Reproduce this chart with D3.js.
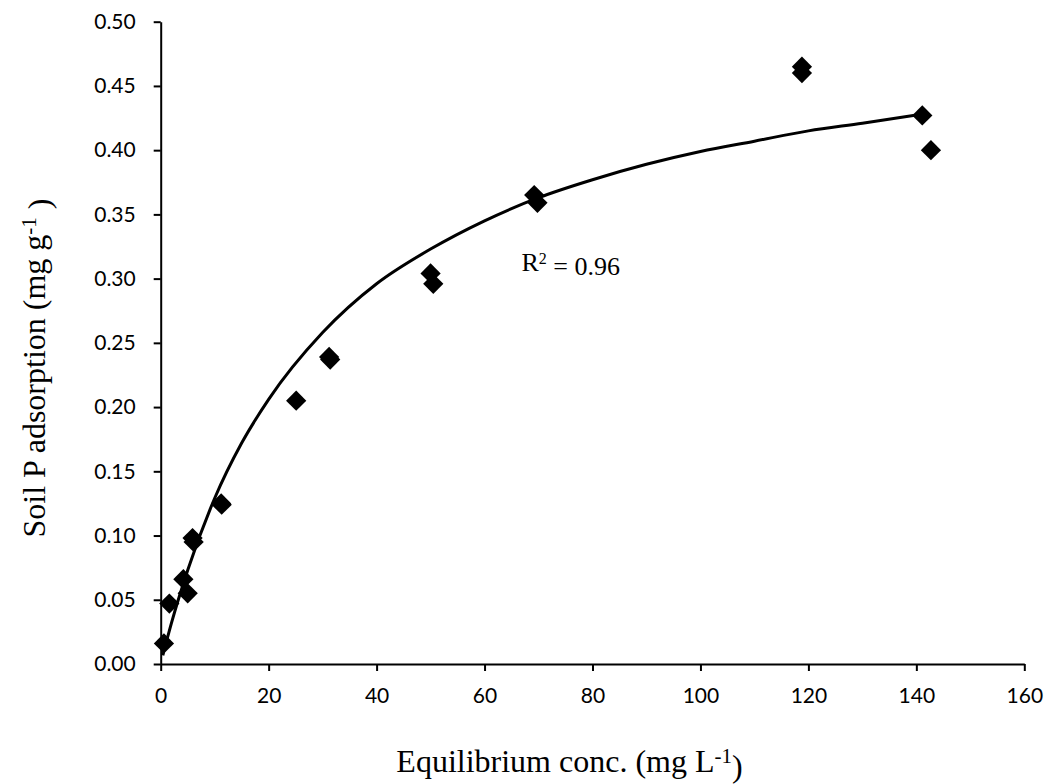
<!DOCTYPE html>
<html>
<head>
<meta charset="utf-8">
<script src="https://cdn.jsdelivr.net/npm/d3@7"></script>
<style>
  html, body { margin: 0; padding: 0; background: #fff; }
  svg { display: block; }
</style>
</head>
<body>
<svg id="chart" width="1054" height="784"></svg>
<script>
// Observed data points (Equilibrium conc. mg/L, Soil P adsorption mg/g)
const obsX = [0.6, 1.6, 4.2, 5.0, 5.9, 6.1, 11.2, 11.3, 25.1, 31.2, 31.4, 50.0, 50.5, 69.2, 69.8, 118.8, 118.8, 141.1, 142.7];
const obsY = [0.016, 0.047, 0.066, 0.055, 0.098, 0.095, 0.125, 0.124, 0.205, 0.239, 0.237, 0.304, 0.296, 0.365, 0.359, 0.465, 0.460, 0.427, 0.400];

// Fitted curve values
const fitX = [0.4, 2, 5, 10, 15, 20, 30, 40, 50, 60, 70, 80, 90, 100, 110, 120, 130, 141];
const fitY = [0.0068, 0.032, 0.073, 0.129, 0.172, 0.206, 0.258, 0.296, 0.323, 0.345, 0.363, 0.377, 0.389, 0.399, 0.407, 0.415, 0.421, 0.428];

// Axis ticks
const xTicks = [0, 20, 40, 60, 80, 100, 120, 140, 160];
const yTicks = [0.00, 0.05, 0.10, 0.15, 0.20, 0.25, 0.30, 0.35, 0.40, 0.45, 0.50];

const xTitle = "Equilibrium conc. (mg L";
const yTitle = "Soil P adsorption (mg g";
const r2Label = "0.96";

const svg = d3.select("#chart");
const L = 160.7, R = 1024.3, T = 21.7, B = 664;

const x = d3.scaleLinear().domain([0, 160]).range([L, R]);
const y = d3.scaleLinear().domain([0, 0.5]).range([B, T]);

// Axes
const xAxis = d3.axisBottom(x).tickValues(xTicks).tickFormat(d3.format("d"))
  .tickSize(7).tickSizeOuter(0).tickPadding(17);
const yAxis = d3.axisLeft(y).tickValues(yTicks).tickFormat(d3.format(".2f"))
  .tickSize(7).tickSizeOuter(0).tickPadding(18);

const gx = svg.append("g").attr("transform", `translate(0,${B})`).call(xAxis);
const gy = svg.append("g").attr("transform", `translate(${L},0)`).call(yAxis);

[gx, gy].forEach(g => {
  g.selectAll("path.domain").attr("stroke", "#000").attr("stroke-width", 2);
  g.selectAll(".tick line").attr("stroke", "#000").attr("stroke-width", 2);
  g.selectAll(".tick text")
    .attr("fill", "#000")
    .style("font-family", "Lato, 'Open Sans', sans-serif")
    .style("font-size", "21px");
});

// Fitted curve
const fitData = fitX.map((d, i) => [d, fitY[i]]);
svg.append("path")
  .datum(fitData)
  .attr("fill", "none")
  .attr("stroke", "#000")
  .attr("stroke-width", 3)
  .attr("d", d3.line().x(d => x(d[0])).y(d => y(d[1])).curve(d3.curveMonotoneX));

// Diamond markers
const obs = obsX.map((d, i) => [d, obsY[i]]);
const dSym = d3.symbol().type(d3.symbolSquare).size(205);
svg.append("g").selectAll("path")
  .data(obs)
  .join("path")
  .attr("d", dSym)
  .attr("fill", "#000")
  .attr("transform", d => `translate(${x(d[0])},${y(d[1])}) rotate(45)`);

// R² annotation
const r2 = svg.append("text")
  .attr("x", 521.5).attr("y", 270.7)
  .style("font-family", "'Liberation Serif', 'Times New Roman', serif")
  .style("font-size", "26px")
  .attr("fill", "#000");
r2.append("tspan").text("R");
r2.append("tspan").attr("dy", "-0.45em").style("font-size", "16px").text("2");
r2.append("tspan").attr("dy", "0.45em").text(" = " + r2Label);

// X title
const xt = svg.append("text")
  .attr("x", 569.5).attr("y", 772)
  .attr("text-anchor", "middle")
  .style("font-family", "'Liberation Serif', 'Times New Roman', serif")
  .style("font-size", "32px")
  .attr("fill", "#000");
xt.append("tspan").text(xTitle);
xt.append("tspan").attr("dy", "-0.42em").style("font-size", "21px").text("-1");
xt.append("tspan").attr("dy", "0.42em").text(")");

// Y title
const yt = svg.append("text")
  .attr("transform", "translate(45,368) rotate(-90)")
  .attr("text-anchor", "middle")
  .style("font-family", "'Liberation Serif', 'Times New Roman', serif")
  .style("font-size", "32px")
  .attr("fill", "#000");
yt.append("tspan").text(yTitle);
yt.append("tspan").attr("dy", "-0.42em").style("font-size", "21px").text("-1");
yt.append("tspan").attr("dy", "0.42em").text(" )");
</script>
</body>
</html>
